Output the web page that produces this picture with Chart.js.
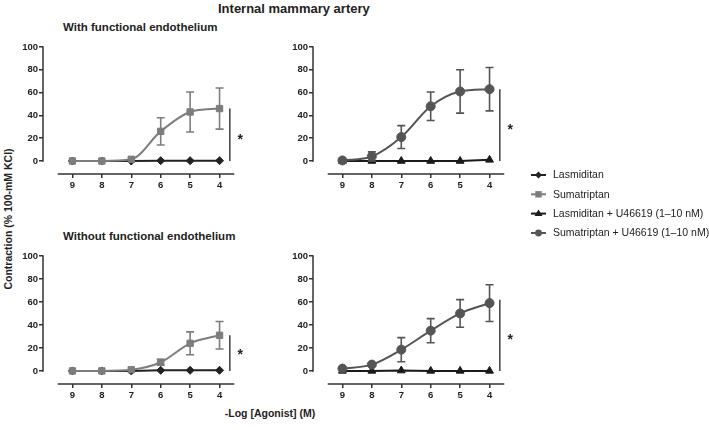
<!DOCTYPE html>
<html>
<head>
<meta charset="utf-8">
<script src="https://cdn.jsdelivr.net/npm/chart.js@4.4.1/dist/chart.umd.min.js"></script>
<style>
  html, body { margin: 0; padding: 0; background: #fff; }
  body { width: 709px; height: 430px; position: relative; overflow: hidden; font-family: "Liberation Sans", Arial, sans-serif; color: #222; }
  .abs { position: absolute; white-space: nowrap; }
  canvas.panel { position: absolute; }
</style>
</head>
<body>
<div class="abs" id="title" style="left:218px; top:1px; font-weight:bold; font-size:13px;">Internal mammary artery</div>
<div class="abs" style="left:63px; top:21px; font-weight:bold; font-size:11.5px;">With functional endothelium</div>
<div class="abs" style="left:63px; top:230px; font-weight:bold; font-size:11.5px;">Without functional endothelium</div>
<div class="abs" style="left:-92px; top:212px; width:200px; text-align:center; transform:rotate(-90deg); font-weight:bold; font-size:10.5px; line-height:14px;">Contraction (% 100-mM KCl)</div>
<div class="abs" style="left:170px; top:406px; width:200px; text-align:center; font-weight:bold; font-size:10.5px; line-height:14px;">-Log [Agonist] (M)</div>

<canvas class="panel" id="p1" width="240" height="155" style="left:13px; top:37px;"></canvas>
<canvas class="panel" id="p2" width="240" height="155" style="left:283px; top:37px;"></canvas>
<canvas class="panel" id="p3" width="240" height="156" style="left:13px; top:246px;"></canvas>
<canvas class="panel" id="p4" width="240" height="156" style="left:283px; top:246px;"></canvas>
<canvas id="legend" width="184" height="80" style="position:absolute; left:525px; top:165px;"></canvas>

<script>
// ---- data ----
const doses = [9, 8, 7, 6, 5, 4];
const xTickValues = [9, 8, 7, 6, 5, 4];
const yTickValues = [0, 20, 40, 60, 80, 100];
const seriesNames = ['Lasmiditan', 'Sumatriptan', 'Lasmiditan + U46619 (1\u201310 nM)', 'Sumatriptan + U46619 (1\u201310 nM)'];

// Panel 1: with functional endothelium
const p1Lasmiditan = [0, 0, 0, 0.3, 0.3, 0.3];
const p1Sumatriptan = [0, 0, 1.5, 26, 43, 46];
const p1SumatriptanErr = [0.4, 0.4, 1.5, 12, 17.5, 18];
// Panel 2: with functional endothelium + U46619
const p2LasmiditanU = [0, 0, 0, 0, 0, 1];
const p2SumatriptanU = [0.5, 4, 21, 48, 61, 63];
const p2SumatriptanUErr = [0.4, 4, 10, 12.5, 19, 19];
// Panel 3: without functional endothelium
const p3Lasmiditan = [0, 0, 0, 0.5, 0.5, 0.5];
const p3Sumatriptan = [0, 0, 1, 7.5, 24, 31];
const p3SumatriptanErr = [0.3, 0.3, 1, 2.5, 10, 12];
// Panel 4: without functional endothelium + U46619
const p4LasmiditanU = [0, 0, 0.3, 0, 0, 0];
const p4SumatriptanU = [2, 5.5, 18.5, 35, 50, 59];
const p4SumatriptanUErr = [0.5, 0.8, 10.5, 10.5, 12, 16];

// significance bars (top value) and star heights, per panel
const sigTop = [46, 63, 31, 62];
const starY = [21, 30, 16, 29];
const sigX = 3.65;
const starX = 3.3;

// ---- styles ----
const colors = ['#222222', '#7d7d7d', '#1a1a1a', '#555555'];
const pointStyles = ['rectRot', 'rect', 'triangle', 'circle'];
const pointRadii = [4, 4.5, 4.5, 4.5];
const FONT = '"Liberation Sans", Arial, sans-serif';

function pts(vals) { return doses.map((d, i) => ({ x: d, y: vals[i] })); }

function seriesDataset(k, vals, errs, smooth) {
  return {
    type: 'line',
    label: seriesNames[k],
    data: pts(vals),
    errors: errs || null,
    borderColor: colors[k],
    backgroundColor: colors[k],
    borderWidth: 2,
    pointStyle: pointStyles[k],
    pointRadius: pointRadii[k],
    pointBackgroundColor: colors[k],
    pointBorderColor: colors[k],
    pointBorderWidth: 1,
    cubicInterpolationMode: smooth ? 'monotone' : 'default',
    tension: 0,
    order: smooth ? 1 : 2,
    clip: false
  };
}

const panelPlugin = {
  id: 'panelExtras',
  afterDatasetsDraw(chart) {
    const ctx = chart.ctx;
    const xs = chart.scales.x, ys = chart.scales.y;
    const ca = chart.chartArea;
    ctx.save();
    // error bars
    chart.data.datasets.forEach(ds => {
      if (!ds.errors) return;
      ctx.strokeStyle = ds.borderColor;
      ctx.lineWidth = 1.6;
      ds.data.forEach((p, i) => {
        const e = ds.errors[i];
        if (e < 2) return;
        const px = xs.getPixelForValue(p.x);
        const yt = ys.getPixelForValue(p.y + e);
        const yb = ys.getPixelForValue(p.y - e);
        ctx.beginPath();
        ctx.moveTo(px, yt); ctx.lineTo(px, yb);
        ctx.moveTo(px - 4, yt); ctx.lineTo(px + 4, yt);
        ctx.moveTo(px - 4, yb); ctx.lineTo(px + 4, yb);
        ctx.stroke();
      });
    });
    // axis lines (Prism style, offset)
    ctx.strokeStyle = '#333';
    ctx.lineWidth = 1.5;
    ctx.beginPath();
    ctx.moveTo(ca.left, ys.getPixelForValue(0) + 0.75);
    ctx.lineTo(ca.left, ys.getPixelForValue(100) - 0.75);
    ctx.moveTo(xs.getPixelForValue(9.5), ca.bottom);
    ctx.lineTo(xs.getPixelForValue(3.5), ca.bottom);
    ctx.stroke();
    // star
    const idx = chart.options.plugins.panelExtras.index;
    ctx.fillStyle = '#222';
    ctx.font = 'bold 14px ' + FONT;
    ctx.textAlign = 'center';
    ctx.textBaseline = 'middle';
    ctx.fillText('*', xs.getPixelForValue(starX), ys.getPixelForValue(starY[idx]) + 3);
    ctx.restore();
  }
};

function makePanel(id, idx, datasets) {
  datasets.push({
    type: 'line',
    data: [{ x: sigX, y: 0 }, { x: sigX, y: sigTop[idx] }],
    borderColor: '#222',
    borderWidth: 1.3,
    pointRadius: 0,
    order: 3,
    clip: false
  });
  return new Chart(document.getElementById(id), {
    type: 'line',
    data: { datasets },
    options: {
      responsive: false,
      maintainAspectRatio: false,
      animation: false,
      layout: { padding: { top: 10, right: 3, left: 0, bottom: 0 } },
      plugins: {
        legend: { display: false },
        tooltip: { enabled: false },
        panelExtras: { index: idx }
      },
      scales: {
        x: {
          type: 'linear',
          reverse: true,
          min: 3.05,
          max: 10,
          afterBuildTicks: a => { a.ticks = xTickValues.map(v => ({ value: v })); },
          afterFit: s => { s.height = 18; },
          border: { display: false },
          grid: { display: true, drawOnChartArea: false, drawTicks: true, tickLength: 4, color: '#333', lineWidth: 1.5 },
          ticks: { padding: 2, color: '#222', font: { family: FONT, size: 9.5, weight: 'bold' }, maxRotation: 0, autoSkip: false }
        },
        y: {
          type: 'linear',
          min: -11.4,
          max: 100,
          afterBuildTicks: a => { a.ticks = yTickValues.map(v => ({ value: v })); },
          afterFit: s => { s.width = 30; },
          border: { display: false },
          grid: { display: true, drawOnChartArea: false, drawTicks: true, tickLength: 4, color: '#333', lineWidth: 1.5 },
          ticks: { padding: 1, color: '#222', font: { family: FONT, size: 9.5, weight: 'bold' } }
        }
      }
    },
    plugins: [panelPlugin]
  });
}

makePanel('p1', 0, [seriesDataset(0, p1Lasmiditan, null, false), seriesDataset(1, p1Sumatriptan, p1SumatriptanErr, true)]);
makePanel('p2', 1, [seriesDataset(2, p2LasmiditanU, null, false), seriesDataset(3, p2SumatriptanU, p2SumatriptanUErr, true)]);
makePanel('p3', 2, [seriesDataset(0, p3Lasmiditan, null, false), seriesDataset(1, p3Sumatriptan, p3SumatriptanErr, true)]);
makePanel('p4', 3, [seriesDataset(2, p4LasmiditanU, null, false), seriesDataset(3, p4SumatriptanU, p4SumatriptanUErr, true)]);

// ---- legend ----
(function () {
  const c = document.getElementById('legend').getContext('2d');
  const ys = [10, 29.3, 48.6, 68];
  seriesNames.forEach((name, k) => {
    const y = ys[k];
    c.strokeStyle = colors[k]; c.fillStyle = colors[k]; c.lineWidth = 2;
    c.beginPath(); c.moveTo(6, y); c.lineTo(21, y); c.stroke();
    const cx = 13.5, r = pointRadii[k] - 0.5;
    c.beginPath();
    if (pointStyles[k] === 'rectRot') { c.moveTo(cx, y - r); c.lineTo(cx + r, y); c.lineTo(cx, y + r); c.lineTo(cx - r, y); c.closePath(); }
    else if (pointStyles[k] === 'rect') { c.rect(cx - r * 0.8, y - r * 0.8, r * 1.6, r * 1.6); }
    else if (pointStyles[k] === 'triangle') { c.moveTo(cx, y - r); c.lineTo(cx + r, y + r * 0.6); c.lineTo(cx - r, y + r * 0.6); c.closePath(); }
    else { c.arc(cx, y, r * 0.85, 0, Math.PI * 2); }
    c.fill();
    c.fillStyle = '#222';
    c.font = '10.5px ' + FONT;
    c.textBaseline = 'middle';
    c.fillText(name, 28, y + 0.5);
  });
})();
</script>
</body>
</html>
